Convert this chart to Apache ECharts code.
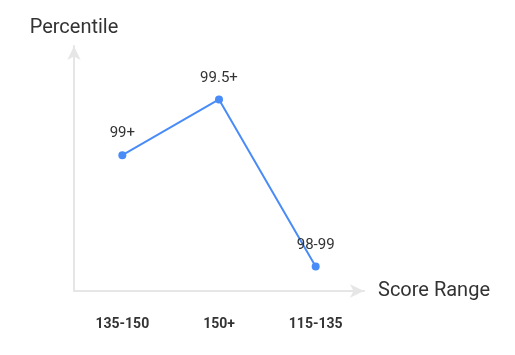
<!DOCTYPE html>
<html><head><meta charset="utf-8">
<script src="https://cdn.jsdelivr.net/npm/echarts@6/dist/echarts.min.js"></script>
<style>html,body{margin:0;padding:0;background:#fff}#c{width:515px;height:355px}</style>
</head><body><div id="c"></div>
<script>
const categories = ["135-150", "150+", "115-135"];
const values = [99, 99.5, 98];
const pointLabels = ["99+", "99.5+", "98-99"];

const chart = echarts.init(document.getElementById('c'), null, {renderer: 'canvas'});
chart.setOption({
  animation: false,
  textStyle: {fontFamily: 'Roboto'},
  grid: {left: 74, right: 151, top: 46, bottom: 64},
  xAxis: {
    type: 'category',
    data: categories,
    name: 'Score Range',
    nameLocation: 'end',
    nameGap: 14,
    nameTextStyle: {fontSize: 20, color: '#333', fontFamily: 'Roboto'},
    axisLine: {show: true, symbol: ['none', 'arrow'], symbolSize: [10, 14], lineStyle: {color: '#e6e6e6', width: 2}},
    axisTick: {show: false},
    axisLabel: {fontSize: 14, fontWeight: 'bold', color: '#333', margin: 26, fontFamily: 'Roboto'}
  },
  yAxis: {
    type: 'value',
    min: 97.78,
    max: 99.98,
    name: 'Percentile',
    nameLocation: 'end',
    nameGap: 8,
    nameTextStyle: {fontSize: 20, color: '#333', fontFamily: 'Roboto', align: 'center'},
    axisLine: {show: true, symbol: ['none', 'arrow'], symbolSize: [10, 14], lineStyle: {color: '#e6e6e6', width: 2}},
    axisTick: {show: false},
    axisLabel: {show: false},
    splitLine: {show: false}
  },
  series: [{
    type: 'line',
    data: values,
    symbol: 'circle',
    symbolSize: 8,
    itemStyle: {color: '#4a8cf7'},
    lineStyle: {color: '#4a8cf7', width: 2},
    label: {
      show: true,
      position: 'top',
      distance: 10,
      fontSize: 15,
      color: '#333',
      fontFamily: 'Roboto',
      formatter: p => pointLabels[p.dataIndex]
    }
  }]
});
</script></body></html>
